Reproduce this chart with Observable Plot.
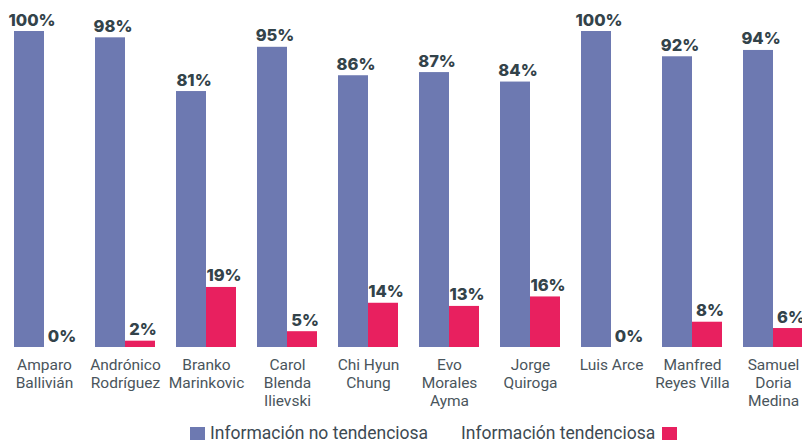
<!DOCTYPE html>
<html>
<head>
<meta charset="utf-8">
<script src="https://cdn.jsdelivr.net/npm/d3@7"></script>
<script src="https://cdn.jsdelivr.net/npm/@observablehq/plot@0.6"></script>
<style>
  html, body { margin: 0; padding: 0; background: #fff; }
  #wrap { position: relative; width: 802px; height: 440px; overflow: hidden; font-family: Roboto, sans-serif; }
  #legend { position: absolute; left: 190px; top: 425px; display: flex; align-items: flex-start; font-size: 17.5px; line-height: 16px; color: #3d4a52; white-space: nowrap; }
  .sw { width: 15px; height: 15px; margin-top: 2px; }
</style>
</head>
<body>
<div id="wrap">
  <div id="chart"></div>
  <div id="legend"></div>
</div>
<script>
const candidatos = ["Amparo\nBallivián", "Andrónico\nRodríguez", "Branko\nMarinkovic", "Carol\nBlenda\nIlievski", "Chi Hyun\nChung", "Evo\nMorales\nAyma", "Jorge\nQuiroga", "Luis Arce", "Manfred\nReyes Villa", "Samuel\nDoria\nMedina"];
const series = ["Información no tendenciosa", "Información tendenciosa"];
const noTendenciosa = [100, 98, 81, 95, 86, 87, 84, 100, 92, 94];
const tendenciosa = [0, 2, 19, 5, 14, 13, 16, 0, 8, 6];
const colores = ["#6d79b1", "#e8205f"];

const data = [];
candidatos.forEach((c, i) => {
  data.push({name: c, serie: series[0], value: noTendenciosa[i]});
  data.push({name: c, serie: series[1], value: tendenciosa[i]});
});

const chart = Plot.plot({
  width: 802,
  height: 418,
  marginTop: 31,
  marginBottom: 71,
  marginLeft: 14,
  marginRight: -1,
  style: {fontFamily: "Roboto, sans-serif", overflow: "visible"},
  fx: {domain: candidatos, paddingInner: 0.26, paddingOuter: 0, align: 0, label: null},
  x: {domain: series, padding: 0, axis: null},
  y: {domain: [0, 100], axis: null},
  color: {domain: series, range: colores},
  marks: [
    Plot.barY(data, {fx: "name", x: "serie", y: "value", fill: "serie"}),
    Plot.text(data, {fx: "name", x: "serie", y: "value", text: d => d.value + "%", lineAnchor: "bottom", dy: -6, dx: 2.5,
      fontFamily: "Inter, sans-serif", fontWeight: 800, fontSize: 16.5, fill: "#33434a"}),
    Plot.axisFx({anchor: "bottom", tickSize: 0, tickPadding: 10, fontSize: 15.5, lineHeight: 1.16, fill: "#4a555c", label: null})
  ]
});
document.getElementById("chart").appendChild(chart);

const legend = document.getElementById("legend");
legend.innerHTML =
  `<div class="sw" style="background:${colores[0]}"></div>` +
  `<span style="margin-left:5px">${series[0]}</span>` +
  `<span style="margin-left:33px">${series[1]}</span>` +
  `<div class="sw" style="background:${colores[1]};margin-left:7px"></div>`;
</script>
</body>
</html>
